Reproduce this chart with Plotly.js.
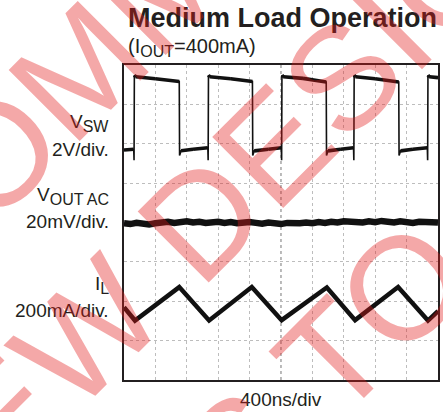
<!DOCTYPE html>
<html>
<head>
<meta charset="utf-8">
<script src="https://cdn.plot.ly/plotly-3.0.1.min.js"></script>
<style>html,body{margin:0;padding:0;background:#fff;}#chart{width:443px;height:412px;}</style>
</head>
<body>
<div id="chart"></div>
<script>
// ---- data (in scope divisions: x 0..10, y 0..8) ----
const vswTime = [0, 0.31, 0.32, 0.33, 0.37, 1.00, 1.76, 1.77, 1.82, 2.20, 2.67, 2.68, 2.69, 2.73, 3.40, 4.09, 4.10, 4.15, 4.60, 5.01, 5.02, 5.03, 5.07, 5.70, 6.44, 6.45, 6.50, 6.90, 7.31, 7.32, 7.33, 7.37, 8.00, 8.75, 8.76, 8.81, 9.20, 9.66, 9.67, 9.68, 9.72, 10];
const vswLevel = [5.84, 5.86, 5.58, 7.74, 7.70, 7.65, 7.58, 5.70, 5.82, 5.86, 5.90, 5.58, 7.74, 7.70, 7.65, 7.58, 5.70, 5.82, 5.86, 5.90, 5.58, 7.74, 7.70, 7.66, 7.57, 5.70, 5.82, 5.86, 5.90, 5.58, 7.74, 7.70, 7.65, 7.57, 5.70, 5.82, 5.86, 5.90, 5.58, 7.74, 7.70, 7.68];

const voutLevel = [3.98,3.96,3.99,3.97,3.95,3.98,4.00,4.02,3.99,4.01,4.03,4.00,4.02,3.99,4.01,4.02,3.99,4.01,3.98,4.00,4.01,3.99,3.97,4.00,3.98,3.96,3.99,3.97,3.98,4.00,3.98,4.01,3.99,4.02,4.00,4.03,4.01,4.02,4.00,4.03,4.01,4.04,4.02,4.00,4.03,4.01,3.99,4.02,4.00,3.98,4.00];

const ilTime  = [0, 0.35, 1.76, 2.71, 4.07, 5.02, 6.46, 7.36, 8.73, 9.68, 10];
const ilLevel = [1.85, 1.51, 2.36, 1.51, 2.36, 1.52, 2.35, 1.52, 2.36, 1.51, 1.75];

const title = "Medium Load Operation";
const subMain = ["(I", "=400mA)"], subSub = "OUT";
const channelMain = ["V", "2V/div.", "V", "20mV/div.", "I", "200mA/div."];
const channelSub  = ["SW", "", "OUT AC", "", "L", ""];
const timeLabel = "400ns/div";
const watermarkLines = ["NOT RECOMMENDED", "FOR NEW DESIGNS", "CONTACT US TO"];

// ---- layout helpers (pixel -> paper) ----
const PL = 124, PR = 438, PT = 65, PB = 380;
const px = x => (x - PL) / (PR - PL);
const py = y => (PB - y) / (PB - PT);
const subTxt = (s, size) => s ? "<sub><span style='font-size:" + size + "px'>" + s + "</span></sub>" : "";

const voutTime = voutLevel.map((_, i) => i * 0.2);

// thick "level" segments: keep only the flat parts of the switching node
const lvX = [], lvY = [];
for (let i = 1; i < vswTime.length; i++) {
  if (Math.abs(vswLevel[i] - vswLevel[i - 1]) < 0.1) {
    lvX.push(vswTime[i - 1], vswTime[i], null);
    lvY.push(vswLevel[i - 1], vswLevel[i], null);
  }
}

const ink = '#111';
const traces = [
  {x: vswTime, y: vswLevel, mode: 'lines', line: {color: ink, width: 1.6}, hoverinfo: 'skip'},
  {x: lvX, y: lvY, mode: 'lines', line: {color: ink, width: 3.6}, connectgaps: false, hoverinfo: 'skip'},
  {x: voutTime, y: voutLevel, mode: 'lines', line: {color: ink, width: 6.5}, hoverinfo: 'skip'},
  {x: ilTime, y: ilLevel, mode: 'lines', line: {color: ink, width: 4.5}, hoverinfo: 'skip'}
];

const txt = '#231f20';
const fam = 'Liberation Sans, Arial, sans-serif';
const lf = {family: fam, size: 19, color: txt};
const labelY = [123, 149, 196, 221, 285, 310];
const annotations = [];
annotations.push({xref: 'paper', yref: 'paper', x: px(126), y: py(18), xanchor: 'left', yanchor: 'middle',
  text: '<b>' + title + '</b>', showarrow: false, font: {family: fam, size: 27, color: txt}});
annotations.push({xref: 'paper', yref: 'paper', x: px(126), y: py(48), xanchor: 'left', yanchor: 'middle',
  text: subMain[0] + subTxt(subSub, 16) + subMain[1], showarrow: false, font: {family: fam, size: 20, color: txt}});
channelMain.forEach((t, i) => annotations.push({xref: 'paper', yref: 'paper', x: px(111), y: py(labelY[i]),
  xanchor: 'right', yanchor: 'middle', align: 'right', text: t + subTxt(channelSub[i], 16), showarrow: false, font: lf}));
annotations.push({xref: 'paper', yref: 'paper', x: px(281), y: py(399), xanchor: 'center', yanchor: 'middle',
  text: timeLabel, showarrow: false, font: lf});

// watermark (rotated, semi-transparent)
const wmCenters = [[31, 119], [138, 281], [28, 662]];
watermarkLines.forEach((t, i) => annotations.push({xref: 'paper', yref: 'paper', x: px(wmCenters[i][0]), y: py(wmCenters[i][1]),
  xanchor: 'center', yanchor: 'middle', text: t, textangle: -45, showarrow: false,
  font: {family: fam, size: 146, color: 'rgba(225,25,25,0.38)'}}));

const axisCommon = {showgrid: true, gridcolor: '#bdbdbd', griddash: 'dot', gridwidth: 1,
  showticklabels: false, ticks: '', zeroline: false, showline: true, mirror: true,
  linecolor: '#231f20', linewidth: 2, fixedrange: true, dtick: 1, tick0: 0};

const layout = {
  width: 443, height: 412,
  margin: {l: PL, r: 443 - PR, t: PT, b: 412 - PB, pad: 0},
  paper_bgcolor: '#fff', plot_bgcolor: '#fff',
  showlegend: false,
  xaxis: Object.assign({range: [0, 10]}, axisCommon),
  yaxis: Object.assign({range: [0, 8]}, axisCommon),
  shapes: [
    {type: 'line', xref: 'x', yref: 'paper', x0: 5, x1: 5, y0: 0, y1: 1, layer: 'below', line: {color: '#8a8a8a', width: 1.2, dash: 'dot'}},
    {type: 'line', xref: 'paper', yref: 'y', x0: 0, x1: 1, y0: 4, y1: 4, layer: 'below', line: {color: '#8a8a8a', width: 1.2, dash: 'dot'}}
  ],
  annotations: annotations
};

Plotly.newPlot('chart', traces, layout, {displayModeBar: false, staticPlot: true});
</script>
</body>
</html>
